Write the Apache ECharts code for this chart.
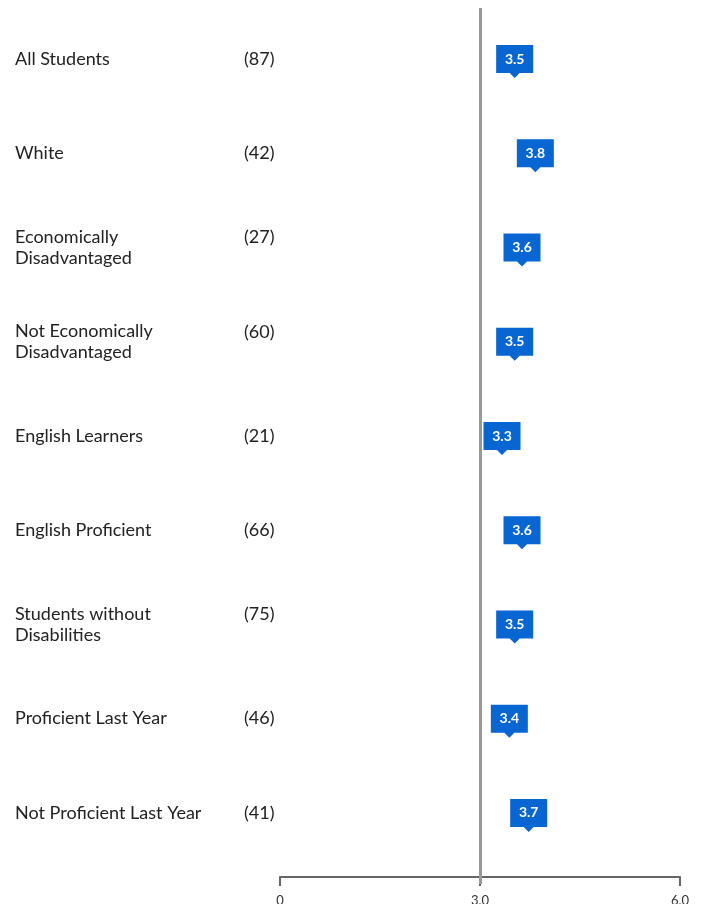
<!DOCTYPE html>
<html>
<head>
<meta charset="utf-8">
<script src="https://cdn.jsdelivr.net/npm/echarts@6/dist/echarts.min.js"></script>
<style>
  html, body { margin: 0; padding: 0; background: #fff; }
  #chart { width: 706px; height: 904px; }
</style>
</head>
<body>
<div id="chart"></div>
<script>
// 数据
var groups = [
  "All Students",
  "White",
  "Economically\nDisadvantaged",
  "Not Economically\nDisadvantaged",
  "English Learners",
  "English Proficient",
  "Students without\nDisabilities",
  "Proficient Last Year",
  "Not Proficient Last Year"
];
var counts = [87, 42, 27, 60, 21, 66, 75, 46, 41];
var scores = [3.52, 3.83, 3.63, 3.52, 3.33, 3.63, 3.52, 3.44, 3.73];
var xTicks = [0, 3, 6];
var refValue = 3.0;

var font = "Lato, 'Noto Sans', sans-serif";
var chart = echarts.init(document.getElementById("chart"));

var option = {
  animation: false,
  grid: [
    { left: 280, right: 26, top: 12, height: 848, outerBoundsMode: "none" }, // 数据区
    { left: 280, right: 26, top: 8, bottom: 20, outerBoundsMode: "none" }     // 参考线
  ],
  xAxis: [
    {
      gridIndex: 0,
      type: "value",
      min: xTicks[0],
      max: xTicks[xTicks.length - 1],
      interval: 3,
      offset: 17,
      axisLine: { show: true, lineStyle: { color: "#666", width: 2 } },
      axisTick: { show: true, length: 9, lineStyle: { color: "#666", width: 2 } },
      axisLabel: {
        margin: 17,
        color: "#333",
        fontSize: 13,
        fontFamily: font,
        formatter: function (v) {
          return v === 0 ? "0" : v.toFixed(1);
        }
      },
      splitLine: { show: false }
    },
    {
      gridIndex: 1,
      type: "value",
      min: 0,
      max: 6,
      show: false
    }
  ],
  yAxis: [
    {
      gridIndex: 0,
      type: "category",
      inverse: true,
      data: groups,
      axisLine: { show: false },
      axisTick: { show: false },
      splitLine: { show: false },
      axisLabel: {
        align: "left",
        margin: 265,
        color: "#222",
        fontSize: 18,
        lineHeight: 21,
        fontFamily: font
      }
    },
    {
      gridIndex: 0,
      type: "category",
      position: "left",
      inverse: true,
      data: counts.map(String),
      axisLine: { show: false },
      axisTick: { show: false },
      splitLine: { show: false },
      axisLabel: {
        align: "left",
        margin: 36,
        color: "#222",
        fontSize: 18,
        lineHeight: 20,
        fontFamily: font,
        formatter: function (v, i) {
          // 两行标签时，人数对齐第一行
          var s = "(" + v + ")";
          return groups[i].indexOf("\n") >= 0 ? s + "\n " : s;
        }
      }
    },
    {
      gridIndex: 1,
      type: "value",
      show: false
    }
  ],
  series: [
    {
      type: "line",
      xAxisIndex: 1,
      yAxisIndex: 2,
      data: [],
      z: 1,
      markLine: {
        silent: true,
        symbol: "none",
        label: { show: false },
        lineStyle: { color: "#999", width: 3, type: "solid" },
        data: [{ xAxis: refValue }]
      }
    },
    {
      type: "custom",
      xAxisIndex: 0,
      yAxisIndex: 0,
      z: 5,
      data: scores.map(function (v, i) { return [v, i]; }),
      renderItem: function (params, api) {
        var pt = api.coord([api.value(0), api.value(1)]);
        var x = pt[0], y = pt[1];
        var w = 37, h = 28;
        var top = y - 14, bot = top + h;
        return {
          type: "group",
          children: [
            {
              type: "polygon",
              shape: {
                points: [
                  [x - w / 2, top], [x + w / 2, top], [x + w / 2, bot],
                  [x + 5, bot], [x, bot + 5], [x - 5, bot], [x - w / 2, bot]
                ]
              },
              style: { fill: "#0866d2" }
            },
            {
              type: "text",
              x: x,
              y: y,
              style: {
                text: api.value(0).toFixed(1),
                fill: "#fff",
                font: "bold 14px " + font,
                align: "center",
                verticalAlign: "middle"
              }
            }
          ]
        };
      }
    }
  ]
};

chart.setOption(option);
window.addEventListener("resize", function () {
  chart.resize();
});
</script>
</body>
</html>
